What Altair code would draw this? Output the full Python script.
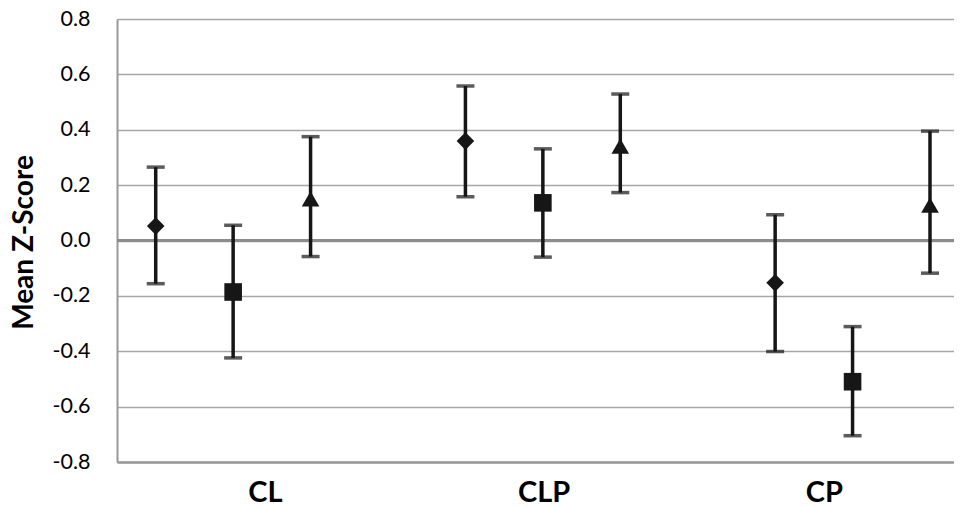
import altair as alt
import pandas as pd

# ---- data ----
groups = ["CL", "CLP", "CP"]
series = ["diamond", "square", "triangle-up"]
means = [[0.052, -0.186, 0.150],
         [0.359, 0.136, 0.341],
         [-0.153, -0.510, 0.128]]
upper = [[0.265, 0.055, 0.375],
         [0.558, 0.331, 0.529],
         [0.093, -0.311, 0.395]]
lower = [[-0.156, -0.424, -0.058],
         [0.158, -0.060, 0.173],
         [-0.401, -0.705, -0.118]]
label_pos = [1.41, 5.01, 8.63]
y_ticks = [-0.8, -0.6, -0.4, -0.2, 0.0, 0.2, 0.4, 0.6, 0.8]

rows = []
for g, grp in enumerate(groups):
    for s, shp in enumerate(series):
        rows.append({"group": grp, "shape": shp, "slot": 4 * g + s,
                     "mean": means[g][s], "hi": upper[g][s], "lo": lower[g][s]})
df = pd.DataFrame(rows)

FONT = "Lato"
INK = "#161616"

x_scale = alt.Scale(domain=[-0.5, 10.31], nice=False, zero=False)
y_scale = alt.Scale(domain=[-0.8, 0.8], nice=False, zero=False)

label_expr = ("datum.value < 3 ? 'CL' : (datum.value < 7 ? 'CLP' : 'CP')")
y_label_expr = ("datum.value < -0.001 ? '-' + format(-datum.value, '.1f') : format(abs(datum.value), '.1f')")

x_enc = alt.X("slot:Q", scale=x_scale,
              axis=alt.Axis(values=label_pos, labelExpr=label_expr, grid=False, ticks=False,
                            domainColor="#999999", domainWidth=2.5, labelFont=FONT,
                            labelFontSize=29, labelFontWeight="bold", labelColor="#000000",
                            labelPadding=16, title=None))

base = alt.Chart(df)

zero_line = alt.Chart(pd.DataFrame({"z": [0.0]})).mark_rule(color="#8c8c8c", strokeWidth=3).encode(
    y=alt.Y("z:Q", scale=y_scale,
            axis=alt.Axis(values=y_ticks, labelExpr=y_label_expr, grid=True, gridColor="#a6a6a6",
                          gridWidth=1.6, ticks=False, domainColor="#999999", domainWidth=2,
                          labelFont=FONT, labelFontSize=21.5, labelColor="#000000", labelPadding=27,
                          title="Mean Z-Score", titleFont=FONT, titleFontSize=28,
                          titleFontWeight="bold", titleColor="#000000", titleAngle=270,
                          titleX=-93, titleY=223, titleAlign="center", titleBaseline="middle"))
)

bars = base.mark_rule(color=INK, strokeWidth=3.5).encode(
    x=x_enc,
    y=alt.Y("lo:Q", scale=y_scale),
    y2="hi:Q",
)

cap_hi = base.mark_tick(color=INK, orient="horizontal", size=18, thickness=3.5).encode(
    x=alt.X("slot:Q", scale=x_scale), y=alt.Y("hi:Q", scale=y_scale))
cap_lo = base.mark_tick(color=INK, orient="horizontal", size=18, thickness=3.5).encode(
    x=alt.X("slot:Q", scale=x_scale), y=alt.Y("lo:Q", scale=y_scale))

points = base.mark_point(filled=True, color=INK, opacity=1, size=310).encode(
    x=alt.X("slot:Q", scale=x_scale),
    y=alt.Y("mean:Q", scale=y_scale),
    shape=alt.Shape("shape:N", scale=alt.Scale(domain=series, range=series), legend=None),
)

chart = alt.layer(zero_line, bars, cap_hi, cap_lo, points).properties(
    width=837, height=443,
    autosize=alt.AutoSizeParams(type="none"),
    padding={"left": 109, "top": 11, "right": 0, "bottom": 46},
).configure_view(strokeWidth=0).configure(background="#ffffff")

chart.save("out.html", embed_options={"renderer": "svg", "actions": False})
